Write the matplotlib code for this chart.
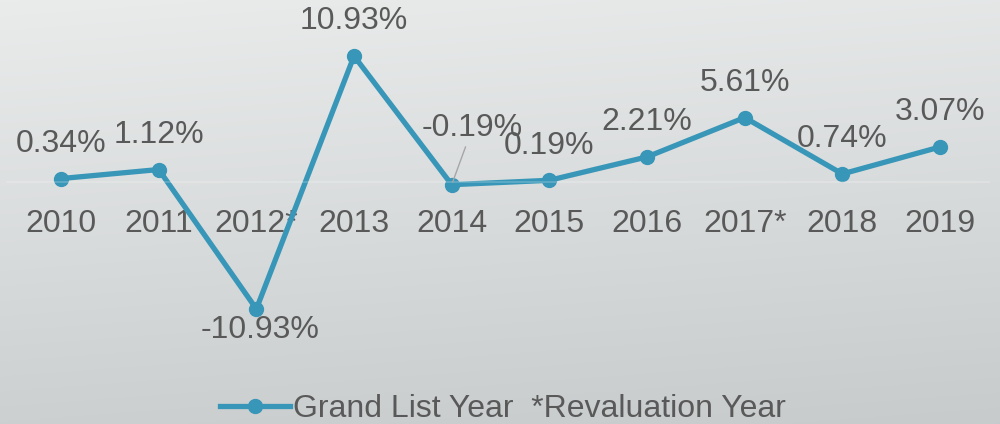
import matplotlib.pyplot as plt
import numpy as np

years = ['2010', '2011', '2012*', '2013', '2014', '2015', '2016', '2017*', '2018', '2019']
change = [0.34, 1.12, -10.93, 10.93, -0.19, 0.19, 2.21, 5.61, 0.74, 3.07]
labels = ['0.34%', '1.12%', '-10.93%', '10.93%', '-0.19%', '0.19%', '2.21%', '5.61%', '0.74%', '3.07%']

plt.rcParams['font.family'] = ['Liberation Sans', 'DejaVu Sans']
blue = '#3896b8'
grey = '#595959'

fig = plt.figure(figsize=(10, 4.24), dpi=100)

# gradient background
bg = fig.add_axes([0, 0, 1, 1], zorder=-5)
yy, xx = np.mgrid[0:1:200j, 0:1:200j]
top = np.array([0.918, 0.925, 0.925])
bot = np.array([0.780, 0.796, 0.800])
t = np.clip(yy * 0.85 + xx * 0.15, 0, 1)[..., None]
img = top * (1 - t) + bot * t
bg.imshow(img, aspect='auto', extent=[0, 1, 1, 0])
bg.axis('off')

ax = fig.add_axes([0, 0, 1, 1])
ax.patch.set_alpha(0)
x = np.arange(len(years))
ax.plot(x, change, color=blue, lw=3.8, marker='o', ms=10, label='Grand List Year  *Revaluation Year')

ax.set_xlim(-0.625, 9.614)
ax.set_ylim(-20.87, 15.77)

for s in ['top', 'right', 'left']:
    ax.spines[s].set_visible(False)
ax.spines['bottom'].set_position(('data', 0))
ax.spines['bottom'].set_color((1, 1, 1, 0.22))
ax.spines['bottom'].set_linewidth(1.2)
ax.spines['bottom'].set_bounds(-0.55, 9.5)
ax.set_yticks([])
ax.set_xticks(x)
ax.set_xticklabels(years, fontsize=23, color=grey)
ax.tick_params(axis='x', length=0, pad=19)

for i, (v, lab) in enumerate(zip(change, labels)):
    if i == 2:
        ax.annotate(lab, (i, v), xytext=(3, -15), textcoords='offset points',
                    ha='center', va='center', fontsize=23, color=grey)
    elif i == 4:
        ax.annotate(lab, (i, v), xytext=(15, 41), textcoords='offset points',
                    ha='center', va='center', fontsize=23, color=grey,
                    arrowprops=dict(arrowstyle='-', color='#a6a6a6', lw=1,
                                    shrinkA=1, shrinkB=2))
    else:
        ax.annotate(lab, (i, v), xytext=(0, 25), textcoords='offset points',
                    ha='center', va='center', fontsize=23, color=grey)

fig.legend(loc='center', bbox_to_anchor=(0.503, 0.035), frameon=False,
           fontsize=23, labelcolor=grey, handlelength=2.2, handletextpad=0.1,
           borderpad=0)

fig.savefig('out.png', dpi=100)
